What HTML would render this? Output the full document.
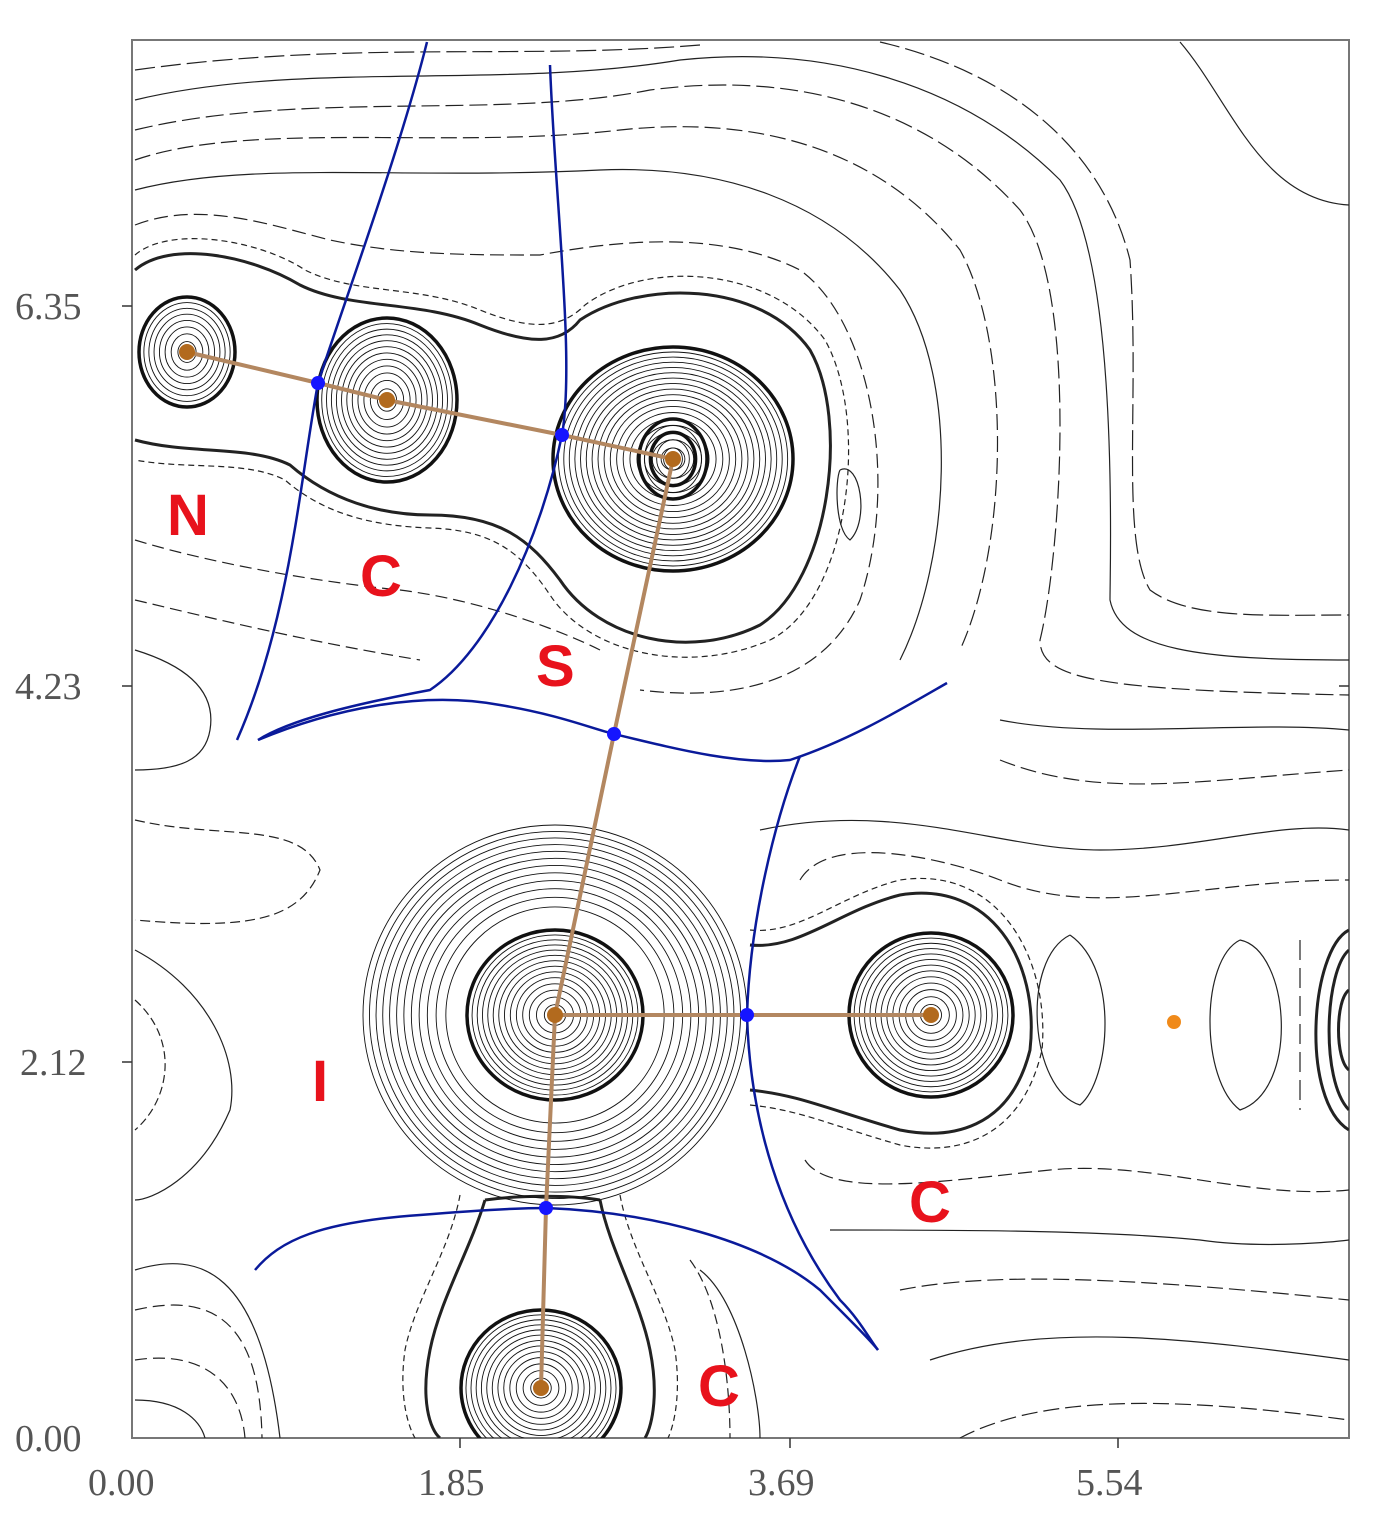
<!DOCTYPE html>
<html><head><meta charset="utf-8"><style>
html,body{margin:0;padding:0;background:#fff;}
svg{display:block}
.t{font-family:"Liberation Serif",serif;font-size:38px;fill:#555;}
.r{font-family:"Liberation Sans",sans-serif;font-weight:bold;font-size:58px;fill:#e8121c;}
</style></head><body>
<svg id="s" width="1379" height="1527" viewBox="0 0 1379 1527" xmlns="http://www.w3.org/2000/svg">
<defs><clipPath id="cp"><rect x="132" y="40" width="1217" height="1398"/></clipPath></defs>
<rect x="132" y="40" width="1217" height="1398" fill="none" stroke="#777" stroke-width="2"/>
<g stroke="#333" stroke-width="1.5">
<line x1="132" y1="306" x2="122" y2="306"/><line x1="132" y1="686" x2="122" y2="686"/><line x1="132" y1="1062" x2="122" y2="1062"/>
<line x1="460" y1="1438" x2="460" y2="1448"/><line x1="790" y1="1438" x2="790" y2="1448"/><line x1="1118" y1="1438" x2="1118" y2="1448"/>
<line x1="1349" y1="686" x2="1339" y2="686"/>
</g>
<text class="t" x="15" y="319">6.35</text>
<text class="t" x="15" y="699">4.23</text>
<text class="t" x="20" y="1075">2.12</text>
<text class="t" x="15" y="1451">0.00</text>
<text class="t" x="88" y="1495">0.00</text>
<text class="t" x="418" y="1495">1.85</text>
<text class="t" x="748" y="1495">3.69</text>
<text class="t" x="1076" y="1495">5.54</text>
<g clip-path="url(#cp)">
<g id="cont" fill="none" stroke="#222" stroke-width="1.2">
<path d="M135,270 C170,240 250,255 300,285 C350,310 420,300 480,325 C530,345 560,345 580,320 C640,280 760,280 810,350 C850,420 830,580 760,625 C690,660 600,640 560,580 C530,540 500,515 430,515 C380,515 330,500 290,465 C250,445 190,455 135,440" stroke-width="3"/>
<path d="M135,255 C170,225 260,240 305,270 C355,295 420,285 480,310 C530,330 560,330 585,305 C645,260 770,265 825,340 C870,420 850,600 770,640 C690,675 590,655 550,595 C520,550 490,530 430,528 C375,526 325,515 285,480 C245,460 190,470 135,460" stroke-dasharray="6 4"/>
<path d="M135,225 C200,200 270,225 330,240 C400,255 470,255 540,255 C620,240 720,230 800,270 C870,320 900,480 860,600 C820,690 720,700 640,690" stroke-dasharray="14 6"/>
<path d="M135,190 C250,160 400,180 600,170 C720,165 830,200 900,290 C960,380 950,560 900,660" />
<path d="M135,160 C250,120 450,150 620,130 C760,115 880,150 960,250 C1010,340 1010,540 960,650" stroke-dasharray="16 6"/>
<path d="M135,130 C300,90 500,120 650,90 C800,70 930,110 1020,210 C1080,290 1060,560 1040,640 C1040,680 1100,690 1349,695" stroke-dasharray="18 6"/>
<path d="M135,100 C300,60 500,90 680,60 C820,45 960,80 1060,180 C1120,260 1110,560 1110,600 C1120,650 1200,660 1349,660" />
<path d="M135,70 C350,40 520,60 700,45 M880,42 C1000,70 1100,140 1130,260 C1140,400 1120,540 1150,590 C1190,620 1270,615 1349,615" stroke-dasharray="20 6"/>
<path d="M1180,42 C1230,100 1260,200 1349,205" />
<path d="M135,540 C200,560 300,580 400,590 C480,600 560,630 600,650" stroke-dasharray="12 6"/>
<path d="M135,600 C220,620 300,640 420,660" stroke-dasharray="12 6"/>
<path d="M135,650 C200,670 215,700 210,730 C205,760 180,770 135,770" />
<path d="M135,820 C220,840 300,820 320,870 C300,920 250,930 135,920" stroke-dasharray="10 5"/>
<path d="M135,950 C210,990 240,1060 230,1110 C200,1180 150,1200 135,1200" />
<path d="M135,1000 C180,1040 170,1100 135,1130" stroke-dasharray="8 4"/>
<path d="M135,1270 C200,1250 260,1270 280,1438" />
<path d="M135,1310 C220,1290 260,1330 262,1438" stroke-dasharray="12 6"/>
<path d="M135,1360 C200,1350 240,1380 245,1438" stroke-dasharray="12 6"/>
<path d="M135,1400 C180,1400 200,1420 205,1438" />
<path d="M800,880 C830,830 950,860 1000,880 C1100,920 1200,880 1349,880" stroke-dasharray="14 6"/>
<path d="M760,830 C900,800 1000,850 1100,850 C1200,850 1280,820 1349,830" />
<path d="M1000,760 C1100,800 1200,780 1349,770" stroke-dasharray="16 6"/>
<path d="M1000,720 C1100,740 1250,720 1349,730" />
<path d="M805,1160 C830,1200 950,1180 1050,1170 C1150,1160 1250,1200 1349,1190" stroke-dasharray="14 6"/>
<path d="M830,1230 C950,1230 1100,1230 1200,1240 C1270,1250 1349,1240 1349,1240" />
<path d="M900,1290 C1000,1270 1150,1280 1349,1300" stroke-dasharray="16 6"/>
<path d="M930,1360 C1050,1320 1200,1340 1349,1360" />
<path d="M960,1438 C1050,1390 1200,1400 1349,1420" stroke-dasharray="16 6"/>
<path d="M1070,935 C1020,960 1030,1090 1080,1105 C1110,1080 1120,970 1070,935" />
<path d="M1240,940 C1290,950 1300,1090 1240,1110 C1200,1080 1200,960 1240,940" />
<path d="M1300,940 L1300,1110" stroke-dasharray="20 8"/>
<path d="M750,945 C800,950 840,910 900,895 C990,880 1040,960 1030,1050 C1010,1130 950,1140 900,1130 C830,1110 800,1095 750,1090" stroke-width="3"/>
<path d="M750,930 C800,935 840,895 900,880 C1000,865 1050,960 1042,1050 C1020,1145 950,1155 900,1145 C830,1125 800,1110 750,1105" stroke-dasharray="6 4"/>
<path d="M485,1200 C470,1250 440,1300 430,1350 C420,1400 430,1430 440,1438 M600,1200 C610,1250 640,1300 650,1350 C660,1400 650,1430 645,1438 M485,1200 C520,1195 570,1195 600,1200" stroke-width="3"/>
<path d="M460,1195 C450,1250 415,1300 405,1350 C398,1400 410,1430 415,1438 M620,1195 C630,1250 665,1300 675,1350 C682,1400 672,1430 668,1438" stroke-dasharray="6 4"/>
<path d="M700,1270 C740,1300 760,1400 760,1438" />
<path d="M690,1260 C720,1300 730,1380 730,1438" stroke-dasharray="10 5"/>
<path d="M1349,930 C1310,950 1300,1100 1349,1130" stroke-width="3"/>
<path d="M1349,950 C1325,970 1320,1080 1349,1110" stroke-width="3"/>
<path d="M1349,990 C1335,1000 1335,1060 1349,1070" stroke-width="3"/>
<path d="M840,470 C860,460 870,520 850,540 C835,530 835,480 840,470" />
</g>
<g id="circ" fill="none" stroke="#111"></g>
</g>
<g fill="none" stroke="#0a1a9a" stroke-width="2.5">
<path d="M427,42 C400,150 345,300 318,383 C300,480 290,620 237,740"/>
<path d="M550,65 C555,200 575,360 562,435 C540,540 490,650 430,690 C350,705 290,720 258,740"/>
<path d="M258,740 C330,710 420,690 500,705 C560,715 590,728 614,734 C680,750 740,765 790,760 C850,740 900,710 947,683"/>
<path d="M800,756 C775,820 750,920 747,1015 C750,1120 780,1220 840,1300 C860,1320 870,1340 878,1350"/>
<path d="M255,1270 C280,1240 320,1222 420,1215 C480,1210 520,1208 546,1208 C650,1212 760,1240 820,1290 C850,1320 870,1340 878,1350"/>
</g>
<g fill="none" stroke="#b38760" stroke-width="4">
<polyline points="187,352 318,383 387,400 562,435 673,459"/>
<polyline points="673,459 614,734 555,1015 546,1208 541,1388"/>
<polyline points="555,1015 747,1015 931,1015"/>
</g>
<g fill="#1515ff">
<circle cx="318" cy="383" r="7"/><circle cx="562" cy="435" r="7"/><circle cx="614" cy="734" r="7"/><circle cx="747" cy="1015" r="7"/><circle cx="546" cy="1208" r="7"/>
</g>
<g fill="#b26a1e">
<circle cx="187" cy="352" r="8"/><circle cx="387" cy="400" r="8"/><circle cx="673" cy="459" r="8"/><circle cx="555" cy="1015" r="8"/><circle cx="931" cy="1015" r="8"/><circle cx="541" cy="1388" r="8"/>
</g>
<circle cx="1174" cy="1022" r="7" fill="#f08a1a"/>
<text class="r" x="167" y="535">N</text>
<text class="r" x="360" y="596">C</text>
<text class="r" x="536" y="686">S</text>
<text class="r" x="312" y="1101">I</text>
<text class="r" x="909" y="1222">C</text>
<text class="r" x="698" y="1406">C</text>
</svg>
<script>
var g=document.getElementById('circ'),NS='http://www.w3.org/2000/svg';
function rings(cx,cy,rx,ry,n,bold,r0,lastBold){r0=r0||0;if(lastBold===undefined)lastBold=true;for(var i=1;i<=n;i++){var e=document.createElementNS(NS,'ellipse');var f=i/n;var k=r0+(1-r0)*Math.pow(f,0.8);e.setAttribute('cx',cx);e.setAttribute('cy',cy);e.setAttribute('rx',rx*k);e.setAttribute('ry',ry*k);e.setAttribute('stroke-width',((i==n&&lastBold)||bold.indexOf(i)>=0)?3.5:0.9);g.appendChild(e);}}
rings(187,352,48,55,8,[]);
rings(387,400,70,82,12,[]);
rings(673,459,120,112,18,[]);
rings(673,459,34,40,5,[3]);
rings(555,1015,88,85,14,[]);
rings(555,1015,192,190,12,[],0.5,false);
rings(931,1015,82,82,13,[]);
rings(541,1388,80,78,13,[]);
</script>
</body></html>
